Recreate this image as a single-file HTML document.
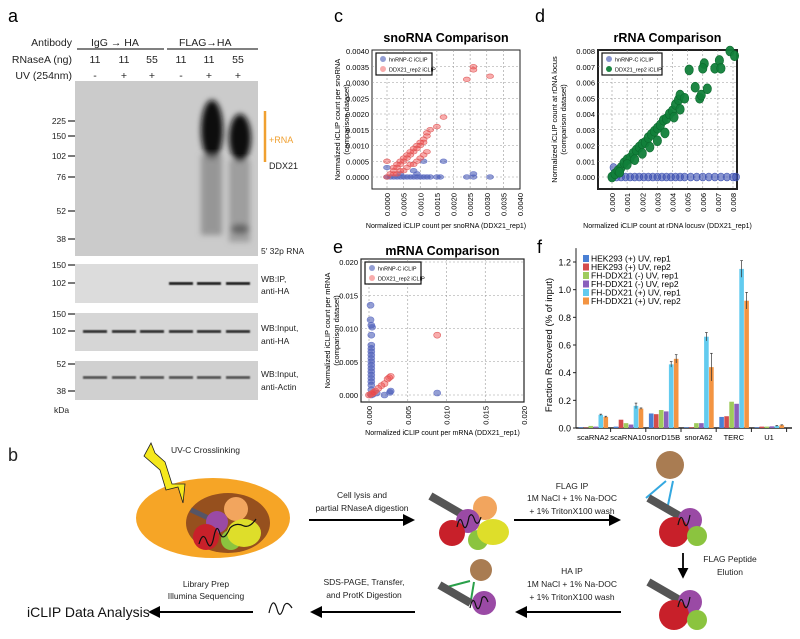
<!DOCTYPE html>
<html><head><meta charset="utf-8"><style>
html,body{margin:0;padding:0;background:#fff;}
svg{display:block;font-family:"Liberation Sans",sans-serif;}
</style></head><body>
<svg id="fig" width="800" height="639" viewBox="0 0 800 639" xmlns="http://www.w3.org/2000/svg">
<defs>
<filter id="blur3" x="-50%" y="-50%" width="200%" height="200%"><feGaussianBlur stdDeviation="3"/></filter>
<filter id="blur1"><feGaussianBlur stdDeviation="0.8"/></filter>
<marker id="ah" markerWidth="6" markerHeight="6" refX="5" refY="3" orient="auto"><path d="M0,0 L6,3 L0,6 z" fill="#000"/></marker>
</defs>

<!-- ================= PANEL A ================= -->
<g>
<text x="8" y="22" font-size="18">a</text>
<g font-size="10.5" fill="#222">
<text x="72" y="46" text-anchor="end">Antibody</text>
<text x="72" y="63" text-anchor="end">RNaseA (ng)</text>
<text x="72" y="79" text-anchor="end">UV (254nm)</text>
<text x="91" y="46">IgG  →  HA</text>
<text x="179" y="46">FLAG→HA</text>
</g>
<line x1="77" y1="49" x2="164" y2="49" stroke="#000" stroke-width="1"/>
<line x1="167" y1="49" x2="258" y2="49" stroke="#000" stroke-width="1"/>
<g font-size="10.5" fill="#222" text-anchor="middle" id="laneLabels"></g>
<rect x="75" y="81" width="183" height="175" fill="#cbcbcb"/>
<g filter="url(#blur3)">
<ellipse cx="212" cy="130" rx="11" ry="30" fill="#0a0a0a"/>
<ellipse cx="240" cy="138" rx="11" ry="24" fill="#0a0a0a"/>
<rect x="201" y="155" width="21" height="80" fill="#8a8a8a" opacity="0.8"/>
<rect x="229" y="160" width="21" height="82" fill="#8a8a8a" opacity="0.7"/>
<ellipse cx="240" cy="229" rx="9" ry="5" fill="#666"/>
</g>
<rect x="75" y="264" width="183" height="39" fill="#dcdcdc"/>
<rect x="75" y="313" width="183" height="38" fill="#d6d6d6"/>
<rect x="75" y="361" width="183" height="39" fill="#d0d0d0"/>
<g id="bands"></g>
<g font-size="8.5" fill="#222" text-anchor="end" id="markers"></g>
<line x1="265" y1="111" x2="265" y2="162" stroke="#f0a030" stroke-width="2.5"/>
<text x="269" y="143" font-size="9" fill="#f0a030">+RNA</text>
<text x="269" y="169" font-size="9" fill="#222">DDX21</text>
<text x="261" y="254" font-size="8.5" fill="#222">5′ 32p RNA</text>
<g font-size="8.5" fill="#222">
<text x="261" y="282">WB:IP,</text>
<text x="261" y="294">anti-HA</text>
<text x="261" y="331">WB:Input,</text>
<text x="261" y="344">anti-HA</text>
<text x="261" y="377">WB:Input,</text>
<text x="261" y="390">anti-Actin</text>
<text x="54" y="413">kDa</text>
</g>
</g>

<!-- ================= PANEL C/D/E ================= -->
<g id="scatters"></g>

<!-- ================= PANEL F ================= -->
<g id="barchart"></g>

<!-- ================= PANEL B ================= -->
<g font-size="8.5" fill="#222">
<text x="8" y="461" font-size="18">b</text>
<text x="171" y="453" font-size="8.5">UV-C Crosslinking</text>
<ellipse cx="213" cy="518" rx="77" ry="40" fill="#f6a526"/>
<ellipse cx="228" cy="523" rx="42" ry="30" fill="#96501e"/>
<path d="M151,443 L144,456 L160,470 L166,490 L178,487 L183,503 L185,484 L172,484 L165,462 L155,453 Z" fill="#f5e81c" stroke="#222" stroke-width="0.8"/>
<circle cx="236" cy="509" r="12" fill="#f2a55e"/>
<rect x="190" y="512" width="22" height="5" fill="#556" transform="rotate(25 201 514)"/>
<circle cx="217" cy="522" r="11" fill="#9a4aa5"/>
<circle cx="206" cy="537" r="13" fill="#c8202a"/>
<circle cx="231" cy="540" r="10" fill="#8bc43f"/>
<ellipse cx="244" cy="533" rx="17" ry="14" fill="#dede2a"/>
<path d="M199,544 q4,-14 8,-2 q4,10 7,-6 q3,-14 6,-2 q4,8 10,-6 q6,-6 14,-2 q6,2 12,-7" stroke="#111" stroke-width="1.2" fill="none"/>
<line x1="309" y1="520" x2="413" y2="520" stroke="#000" stroke-width="2" marker-end="url(#ah)"/>
<text x="362" y="498" text-anchor="middle">Cell lysis and</text>
<text x="362" y="511" text-anchor="middle">partial RNaseA digestion</text>
<!-- complex 1 -->
<rect x="428" y="501" width="36" height="8" fill="#555" transform="rotate(30 446 505)"/>
<circle cx="485" cy="508" r="12" fill="#f2a55e"/>
<circle cx="468" cy="521" r="12" fill="#9a4aa5"/>
<circle cx="452" cy="533" r="13" fill="#c8202a"/>
<circle cx="478" cy="540" r="10" fill="#8bc43f"/>
<ellipse cx="493" cy="532" rx="16" ry="13" fill="#dede2a"/>
<path d="M457,527 q3,-14 6,-2 q3,8 6,-8 q3,-6 6,4 q3,6 6,-4" stroke="#111" stroke-width="1.2" fill="none"/>
<line x1="514" y1="520" x2="619" y2="520" stroke="#000" stroke-width="2" marker-end="url(#ah)"/>
<text x="572" y="489" text-anchor="middle">FLAG IP</text>
<text x="572" y="501" text-anchor="middle">1M NaCl + 1% Na-DOC</text>
<text x="572" y="514" text-anchor="middle">+ 1% TritonX100 wash</text>
<!-- complex 2 -->
<circle cx="670" cy="465" r="14" fill="#a97c52"/>
<path d="M666,481 L646,498 M673,481 L668,505" stroke="#34a8e0" stroke-width="2" fill="none"/>
<rect x="646" y="503" width="36" height="8" fill="#555" transform="rotate(30 664 507)"/>
<circle cx="690" cy="520" r="12" fill="#9a4aa5"/>
<circle cx="674" cy="532" r="15" fill="#c8202a"/>
<circle cx="697" cy="536" r="10" fill="#8bc43f"/>
<path d="M678,525 q3,-14 6,-2 q3,8 6,-8" stroke="#111" stroke-width="1.2" fill="none"/>
<line x1="683" y1="553" x2="683" y2="577" stroke="#000" stroke-width="1.8" marker-end="url(#ah)"/>
<text x="730" y="562" text-anchor="middle">FLAG Peptide</text>
<text x="730" y="575" text-anchor="middle">Elution</text>
<!-- complex 3 -->
<rect x="646" y="587" width="36" height="8" fill="#555" transform="rotate(30 664 591)"/>
<circle cx="690" cy="602" r="12" fill="#9a4aa5"/>
<circle cx="674" cy="615" r="15" fill="#c8202a"/>
<circle cx="697" cy="620" r="10" fill="#8bc43f"/>
<path d="M678,607 q3,-14 6,-2 q3,8 6,-8" stroke="#111" stroke-width="1.2" fill="none"/>
<line x1="621" y1="612" x2="517" y2="612" stroke="#000" stroke-width="2" marker-end="url(#ah)"/>
<text x="572" y="574" text-anchor="middle">HA IP</text>
<text x="572" y="587" text-anchor="middle">1M NaCl + 1% Na-DOC</text>
<text x="572" y="600" text-anchor="middle">+ 1% TritonX100 wash</text>
<!-- complex 4 -->
<circle cx="481" cy="570" r="11" fill="#a97c52"/>
<path d="M470,581 L447,587 M474,582 L471,600" stroke="#2aa04a" stroke-width="2" fill="none"/>
<rect x="437" y="590" width="36" height="8" fill="#555" transform="rotate(30 455 594)"/>
<circle cx="484" cy="603" r="12" fill="#9a4aa5"/>
<path d="M470,608 q3,-14 6,-2 q3,8 6,-8 q3,-4 6,4" stroke="#111" stroke-width="1.2" fill="none"/>
<line x1="415" y1="612" x2="312" y2="612" stroke="#000" stroke-width="2" marker-end="url(#ah)"/>
<text x="364" y="585" text-anchor="middle">SDS-PAGE, Transfer,</text>
<text x="364" y="598" text-anchor="middle">and ProtK Digestion</text>
<path d="M269,613 q4,-18 8,-4 q3,12 7,-3 q3,-6 8,2" stroke="#111" stroke-width="1.2" fill="none"/>
<line x1="253" y1="612" x2="150" y2="612" stroke="#000" stroke-width="2" marker-end="url(#ah)"/>
<text x="206" y="587" text-anchor="middle">Library Prep</text>
<text x="206" y="599" text-anchor="middle">Illumina Sequencing</text>
<text x="27" y="617" font-size="14" fill="#111">iCLIP Data Analysis</text>
</g>
</svg>

<script>
const NS="http://www.w3.org/2000/svg";
function mk(tag,attrs,parent,txt){const e=document.createElementNS(NS,tag);for(const k in attrs)e.setAttribute(k,attrs[k]);if(txt!==undefined)e.textContent=txt;parent.appendChild(e);return e;}

/* ---- panel a ---- */
const laneX=[95,124,152,181,209,238];
const rnase=["11","11","55","11","11","55"];
const uv=["-","+","+","-","+","+"];
const ll=document.getElementById('laneLabels');
laneX.forEach((x,i)=>{mk('text',{x:x,y:63},ll,rnase[i]);mk('text',{x:x,y:79},ll,uv[i]);});
const mk1=document.getElementById('markers');
const markers=[["225",121],["150",136],["102",156],["76",177],["52",211],["38",239],["150",265],["102",283],["150",314],["102",331],["52",364],["38",391]];
markers.forEach(m=>{mk('text',{x:66,y:m[1]+3},mk1,m[0]);mk('line',{x1:68,y1:m[1],x2:75,y2:m[1],stroke:'#222','stroke-width':1.2},mk1);});
const bands=document.getElementById('bands');
[3,4,5].forEach(i=>mk('rect',{x:laneX[i]-12,y:282,width:24,height:3,fill:'#222',filter:'url(#blur1)'},bands));
laneX.forEach(x=>{mk('rect',{x:x-12,y:330,width:24,height:3,fill:'#333',filter:'url(#blur1)'},bands);
 mk('rect',{x:x-12,y:376,width:24,height:3,fill:'#555',filter:'url(#blur1)'},bands);});

/* ---- scatter data ---- */
const snoRedX=[0,0.0001,0.0002,0.0002,0.0003,0.0003,0.0004,0.0004,0.0005,0.0005,0.0006,0.0006,0.0007,0.0007,0.0008,0.0008,0.0009,0.0009,0.001,0.001,0.0011,0.0011,0.0012,0.0012,0.0013,0.0015,0.0017,0.0024,0.0026,0.0026,0.0031,0.0003,0.0005,0.0008,0.001,0.0012,0,0.0002,0.0006,0.0009,0.0011,0.0004,0.0007];
const snoRedY=[0,0.0001,0.0002,0.0003,0.0003,0.0004,0.0004,0.0005,0.0005,0.0006,0.0006,0.0007,0.0007,0.0008,0.0008,0.0009,0.0009,0.001,0.001,0.0011,0.0011,0.0012,0.0013,0.0014,0.0015,0.0016,0.0019,0.0031,0.0034,0.0035,0.0032,0.0001,0.0002,0.0004,0.0006,0.0008,0.0005,0.0001,0.0003,0.0005,0.0007,0.0002,0.0004];
const snoBlueX=[0,0.0001,0.0002,0.0003,0.0004,0.0005,0.0006,0.0007,0.0008,0.0009,0.001,0.0011,0.0012,0.0013,0.0015,0.0016,0.0024,0.0026,0.0026,0.0031,0.0017,0,0.0008,0.0011,0.0004,0.0009];
const snoBlueY=[0,0,0,0,0,0,0,0,0,0,0,0,0,0,0,0,0,0.0001,0,0,0.0005,0.0003,0.0002,0.0005,0.0001,0.0001];
const rGreenX=[0,0.0002,0.0004,0.0006,0.0008,0.001,0.0012,0.0014,0.0016,0.0018,0.002,0.0022,0.0024,0.0026,0.0028,0.003,0.0032,0.0034,0.0036,0.0038,0.004,0.0042,0.0044,0.0045,0.0048,0.0051,0.0055,0.0058,0.0059,0.0061,0.006,0.0063,0.0068,0.0071,0.0072,0.0078,0.0081,0.0005,0.001,0.0015,0.002,0.0025,0.003,0.0035,0.0041,0.0045];
const rGreenY=[0,0.0002,0.0004,0.0006,0.0009,0.0011,0.0012,0.0015,0.0017,0.0019,0.0021,0.0022,0.0025,0.0027,0.0029,0.0031,0.0033,0.0036,0.0037,0.004,0.0042,0.0046,0.0049,0.0052,0.005,0.0068,0.0057,0.005,0.0052,0.0072,0.0069,0.0056,0.0069,0.0074,0.0069,0.008,0.0077,0.0003,0.0008,0.0011,0.0015,0.0019,0.0023,0.0028,0.0038,0.0043];
const rBlueX=[0,0.0003,0.0006,0.0009,0.0012,0.0015,0.0018,0.0021,0.0024,0.0027,0.003,0.0033,0.0036,0.0039,0.0042,0.0045,0.0048,0.0052,0.0056,0.006,0.0064,0.0068,0.0072,0.0076,0.008,0.0082,0.0001];
const rBlueY=[0,0,0,0,0,0,0,0,0,0,0,0,0,0,0,0,0,0,0,0,0,0,0,0,0,0,0.0006];
const mBlueX=[0.0003,0.0003,0.0003,0.0003,0.0003,0.0003,0.0003,0.0003,0.0003,0.0003,0.0003,0.0003,0.0003,0.0003,0.0003,0.0003,0.0003,0.0002,0.0004,0.0002,0.0028,0.0027,0.002,0.0088,0.001,0.0005];
const mBlueY=[0,0.0008,0.0015,0.002,0.0025,0.003,0.0035,0.004,0.0045,0.005,0.0055,0.006,0.0065,0.007,0.0075,0.009,0.0105,0.0113,0.0102,0.0135,0.0006,0.0004,0,0.0003,0.0003,0.0001];
const mRedX=[0,0.0002,0.0004,0.0006,0.0008,0.0012,0.0016,0.002,0.0024,0.0026,0.0028,0.0088,0.0005];
const mRedY=[0,0.0001,0.0002,0.0004,0.0006,0.001,0.0014,0.0017,0.0024,0.0026,0.0028,0.009,0.0003];

const snoTicks=["0.0000","0.0005","0.0010","0.0015","0.0020","0.0025","0.0030","0.0035","0.0040"];
const rTicks=["0.000","0.001","0.002","0.003","0.004","0.005","0.006","0.007","0.008"];
const mTicks=["0.000","0.005","0.010","0.015","0.020"];

const scat=document.getElementById('scatters');
function scatter(cfg){
  const g=mk('g',{},scat);
  
  
  mk('text',{x:cfg.letterX,y:cfg.letterY,'font-size':18},g,cfg.letter);
  mk('text',{x:(cfg.fx0+cfg.fx1)/2,y:cfg.titleY,'font-size':12.5,'font-weight':'bold','text-anchor':'middle'},g,cfg.title);
  const sx=v=>cfg.x0+(v-cfg.xmin)/(cfg.xmax-cfg.xmin)*(cfg.x1-cfg.x0);
  const sy=v=>cfg.y0-(v-cfg.ymin)/(cfg.ymax-cfg.ymin)*(cfg.y0-cfg.y1);
  mk('rect',{x:cfg.fx0,y:cfg.fy0,width:cfg.fx1-cfg.fx0,height:cfg.fy1-cfg.fy0,fill:'#fff',stroke:'#222','stroke-width':cfg.frameW},g);
  cfg.ticks.forEach(t=>{const v=parseFloat(t);
    const xx=sx(v),yy=sy(v);
    if(xx>cfg.fx0+2&&xx<cfg.fx1-2)mk('line',{x1:xx,y1:cfg.fy0,x2:xx,y2:cfg.fy1,stroke:'#999','stroke-dasharray':'2,2','stroke-width':0.6},g);
    if(yy>cfg.fy0+2&&yy<cfg.fy1-2)mk('line',{x1:cfg.fx0,y1:yy,x2:cfg.fx1,y2:yy,stroke:'#999','stroke-dasharray':'2,2','stroke-width':0.6},g);
    mk('text',{x:cfg.fx0-3,y:yy+3,'font-size':7.5,'text-anchor':'end'},g,t);
    mk('text',{x:0,y:0,'font-size':7.5,'text-anchor':'end',transform:`translate(${xx+3},${cfg.fy1+4}) rotate(-90)`},g,t);
  });
  cfg.series.forEach(s=>{
    s.xs.forEach((v,i)=>{const c=mk('ellipse',{cx:sx(v),cy:sy(s.ys[i]),rx:s.rx,ry:s.ry,fill:s.fill,stroke:s.stroke,'stroke-width':0.6,'fill-opacity':s.op},g);
      
      });
  });
  const lg=mk('g',{},g);
  
  
  mk('rect',{x:cfg.fx0+4,y:cfg.fy0+3,width:cfg.legW,height:22,fill:'#fff',stroke:'#111','stroke-width':1.2},lg);
  cfg.series.forEach((s,i)=>{mk('ellipse',{cx:cfg.fx0+11,cy:cfg.fy0+9+i*10,rx:3,ry:3,fill:s.fill,'fill-opacity':s.op},lg);
    mk('text',{x:cfg.fx0+17,y:cfg.fy0+11.5+i*10,'font-size':5.5},lg,s.label);});
  mk('text',{x:(cfg.fx0+cfg.fx1)/2,y:cfg.xlabY,'font-size':7,'text-anchor':'middle'},g,cfg.xlab);
  mk('text',{x:0,y:0,'font-size':7.5,'text-anchor':'middle',transform:`translate(${cfg.ylabX},${(cfg.fy0+cfg.fy1)/2}) rotate(-90)`},g,cfg.ylab1);
  mk('text',{x:0,y:0,'font-size':7.5,'text-anchor':'middle',transform:`translate(${cfg.ylabX+9},${(cfg.fy0+cfg.fy1)/2}) rotate(-90)`},g,'(comparison dataset)');
}
scatter({name:'snorna-scatter',letter:'c',letterX:334,letterY:22,title:'snoRNA Comparison',titleY:42,
 fx0:372,fx1:520,fy0:50,fy1:189,x0:387,x1:520,xmin:0,xmax:0.004,y0:177,y1:51,ymin:0,ymax:0.004,frameW:1,
 ticks:snoTicks,legW:56,xlab:'Normalized iCLIP count per snoRNA (DDX21_rep1)',xlabY:228,ylabX:340,ylab1:'Normalized iCLIP count per snoRNA',
 series:[{xs:snoBlueX,ys:snoBlueY,fill:'#3a4fb0',stroke:'#6b78c8',op:0.55,rx:3.5,ry:2.3,label:'hnRNP-C iCLIP',pname:'hnrnpc-point'},
         {xs:snoRedX,ys:snoRedY,fill:'#f04848',stroke:'#e06060',op:0.45,rx:3.5,ry:2.3,label:'DDX21_rep2 iCLIP',pname:'ddx21-point'}]});
scatter({name:'rrna-scatter',letter:'d',letterX:535,letterY:22,title:'rRNA Comparison',titleY:42,
 fx0:598,fx1:737,fy0:50,fy1:189,x0:612,x1:733,xmin:0,xmax:0.008,y0:177,y1:51,ymin:0,ymax:0.008,frameW:2,
 ticks:rTicks,legW:60,xlab:'Normalized iCLIP count at rDNA locusv (DDX21_rep1)',xlabY:228,ylabX:557,ylab1:'Normalized iCLIP count at rDNA locus',
 series:[{xs:rBlueX,ys:rBlueY,fill:'#3a4fb0',stroke:'#3a4fb0',op:0.6,rx:3.5,ry:4,label:'hnRNP-C iCLIP',pname:'hnrnpc-point'},
         {xs:rGreenX,ys:rGreenY,fill:'#11803a',stroke:'#0c6a2e',op:0.95,rx:4.2,ry:5,label:'DDX21_rep2 iCLIP',pname:'ddx21-point'}]});
scatter({name:'mrna-scatter',letter:'e',letterX:333,letterY:253,title:'mRNA Comparison',titleY:255,
 fx0:361,fx1:524,fy0:259,fy1:402,x0:369,x1:524,xmin:0,xmax:0.02,y0:395,y1:262,ymin:0,ymax:0.02,frameW:1.2,
 ticks:mTicks,legW:56,xlab:'Normalized iCLIP count per mRNA (DDX21_rep1)',xlabY:435,ylabX:330,ylab1:'Normalized iCLIP count per mRNA',
 series:[{xs:mBlueX,ys:mBlueY,fill:'#3a4fb0',stroke:'#6b78c8',op:0.55,rx:3.5,ry:3,label:'hnRNP-C iCLIP',pname:'hnrnpc-point'},
         {xs:mRedX,ys:mRedY,fill:'#f04848',stroke:'#e06060',op:0.45,rx:3.5,ry:3,label:'DDX21_rep2 iCLIP',pname:'ddx21-point'}]});

/* ---- panel f bar chart ---- */
const categories=["scaRNA2","scaRNA10","snorD15B","snorA62","TERC","U1"];
const seriesNames=["HEK293 (+) UV, rep1","HEK293 (+) UV, rep2","FH-DDX21 (-) UV, rep1","FH-DDX21 (-) UV, rep2","FH-DDX21 (+) UV, rep1","FH-DDX21 (+) UV, rep2"];
const hekRep1=[0.005,0.01,0.105,0.005,0.08,0.005];
const hekRep2=[0.003,0.06,0.1,0.005,0.085,0.01];
const noUvRep1=[0.015,0.035,0.13,0.035,0.19,0.01];
const noUvRep2=[0.01,0.025,0.12,0.035,0.175,0.012];
const uvRep1=[0.095,0.16,0.46,0.66,1.15,0.015];
const uvRep2=[0.08,0.14,0.5,0.44,0.92,0.02];
const errRep1=[0.005,0.02,0.02,0.03,0.06,0.003];
const errRep2=[0.005,0.005,0.03,0.1,0.06,0.003];
const yTicksF=["0.0","0.2","0.4","0.6","0.8","1.0","1.2"];
const barColors=["#4a80d4","#d44c4c","#9fcb5c","#8a60bc","#62cbef","#f39442"];
const allSeries=[hekRep1,hekRep2,noUvRep1,noUvRep2,uvRep1,uvRep2];

const bc=document.getElementById('barchart');


mk('text',{x:537,y:253,'font-size':18},bc,'f');
const fx0=576,fy0=428,fyTop=262,fxEnd=792;
const fy=v=>fy0-v/1.2*(fy0-fyTop);
const groupX=i=>593+i*35.2;
mk('line',{x1:fx0,y1:fy(1.3),x2:fx0,y2:fy0,stroke:'#222','stroke-width':1},bc);
mk('line',{x1:fx0,y1:fy0,x2:fxEnd,y2:fy0,stroke:'#222','stroke-width':1.4},bc);
yTicksF.forEach(t=>{const y=fy(parseFloat(t));mk('line',{x1:fx0-3,y1:y,x2:fx0,y2:y,stroke:'#222'},bc);
  mk('text',{x:fx0-5,y:y+3.5,'font-size':9,'text-anchor':'end'},bc,t);});
mk('text',{x:0,y:0,'font-size':9.5,'text-anchor':'middle',transform:`translate(${552},${345}) rotate(-90)`},bc,'Fraction Recovered (% of input)');
categories.forEach((c,ci)=>{
  const gx=groupX(ci);
  const lab=mk('text',{x:gx,y:440,'font-size':7.5,'text-anchor':'middle'},bc,c);
  
  
  mk('line',{x1:gx+17.6,y1:fy0,x2:gx+17.6,y2:fy0+4,stroke:'#222'},bc);
  allSeries.forEach((s,si)=>{
    const x=gx-14.5+si*5;const y=fy(s[ci]);
    const r=mk('rect',{x:x,y:y,width:4.6,height:fy0-y,fill:barColors[si]},bc);
    
    
    if(si>=4){const e=(si==4?errRep1:errRep2)[ci];
      mk('line',{x1:x+2.3,y1:fy(s[ci]+e),x2:x+2.3,y2:fy(s[ci]-e),stroke:'#333','stroke-width':0.7},bc);
      mk('line',{x1:x+1,y1:fy(s[ci]+e),x2:x+3.6,y2:fy(s[ci]+e),stroke:'#333','stroke-width':0.7},bc);}
  });
});
const fl=mk('g',{},bc);


seriesNames.forEach((n,i)=>{mk('rect',{x:583,y:255+i*8.5,width:6,height:7,fill:barColors[i]},fl);
  mk('text',{x:591,y:261.5+i*8.5,'font-size':8.5},fl,n);});
</script>
</body></html>
